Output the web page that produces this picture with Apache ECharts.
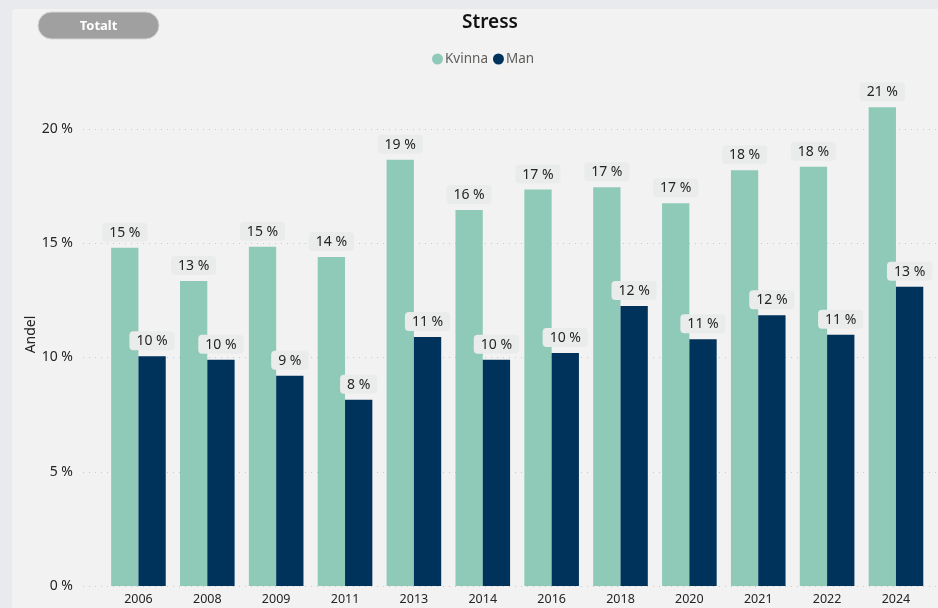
<!DOCTYPE html>
<html><head><meta charset="utf-8">
<script src="https://cdn.jsdelivr.net/npm/echarts@6/dist/echarts.min.js"></script>
<style>html,body{margin:0;padding:0;background:#E9EAED}#c{width:938px;height:608px}</style>
</head><body><div id="c"></div>
<script>
const years = ['2006','2008','2009','2011','2013','2014','2016','2018','2020','2021','2022','2024'];
const kvinna = [14.8, 13.35, 14.85, 14.4, 18.65, 16.45, 17.35, 17.45, 16.75, 18.2, 18.35, 20.95];
const man = [10.05, 9.9, 9.2, 8.15, 10.9, 9.9, 10.2, 12.25, 10.8, 11.85, 11.0, 13.1];
const seriesNames = ['Kvinna', 'Man'];
const yTicks = [0, 5, 10, 15, 20];

const FONT = '"Noto Sans", "Open Sans", sans-serif';
const chart = echarts.init(document.getElementById('c'));
const lbl = {
  show: true, position: 'top', distance: 6,
  formatter: p => Math.round(p.value) + ' %',
  color: '#252423', fontSize: 14, fontFamily: FONT,
  backgroundColor: '#EAECEB', borderRadius: 4, padding: [3, 7, 2, 7]
};
chart.setOption({
  backgroundColor: '#E9EAED',
  animation: false,
  graphic: [
    { type: 'rect', z: -10, shape: { x: 12, y: 9, width: 940, height: 620, r: 4 }, style: { fill: '#F2F2F2' } },
    { type: 'rect', shape: { x: 38, y: 12, width: 121, height: 27, r: 13.5 }, style: { fill: '#A0A0A0', stroke: '#D6D6D6', lineWidth: 1 } },
    { type: 'text', x: 98.5, y: 26, style: { text: 'Totalt', fill: '#FFFFFF', font: 'bold 13px ' + FONT, align: 'center', verticalAlign: 'middle' } }
  ],
  title: {
    text: 'Stress', left: 485, top: 8, textAlign: 'center',
    textStyle: { fontFamily: FONT, fontSize: 19, fontWeight: 600, color: '#111111' }
  },
  legend: {
    data: seriesNames, top: 47, left: 427, icon: 'circle',
    itemWidth: 11, itemHeight: 11, itemGap: 5,
    textStyle: { fontFamily: FONT, fontSize: 13.5, color: '#605E5C', padding: [0, 0, 0, -3] }
  },
  grid: [
    { left: 83, right: 0, top: 129, bottom: 22 },
    { left: 104, right: 7.6, top: 129, bottom: 22 }
  ],
  xAxis: [
    { gridIndex: 0, type: 'category', data: years, show: false },
    { gridIndex: 1, type: 'category', data: years,
      axisLine: { show: false }, axisTick: { show: false },
      axisLabel: { color: '#252423', fontSize: 12.5, fontFamily: FONT, margin: 7 } }
  ],
  yAxis: [
    { gridIndex: 0, type: 'value', min: 0, max: 20, interval: 5,
      name: 'Andel', nameLocation: 'middle', nameGap: 45, nameMoveOverlap: false,
      nameTextStyle: { color: '#252423', fontSize: 14, fontFamily: FONT, padding: [0, 0, 0, 46] },
      axisLabel: { formatter: v => v + ' %', color: '#252423', fontSize: 14, fontFamily: FONT, margin: 10 },
      splitLine: { lineStyle: { type: [1, 5], color: '#C8C8C8', width: 1 } },
      axisLine: { show: false }, axisTick: { show: false } },
    { gridIndex: 1, type: 'value', min: 0, max: 20, interval: 5, show: false, splitLine: { show: false } }
  ],
  series: [
    { name: seriesNames[0], type: 'bar', xAxisIndex: 1, yAxisIndex: 1, data: kvinna, clip: false,
      itemStyle: { color: '#8FCAB9' }, barGap: '0%', barCategoryGap: '20.7%', label: lbl },
    { name: seriesNames[1], type: 'bar', xAxisIndex: 1, yAxisIndex: 1, data: man, clip: false,
      itemStyle: { color: '#00335B' }, barGap: '0%', barCategoryGap: '20.7%', label: lbl }
  ]
});
</script></body></html>
